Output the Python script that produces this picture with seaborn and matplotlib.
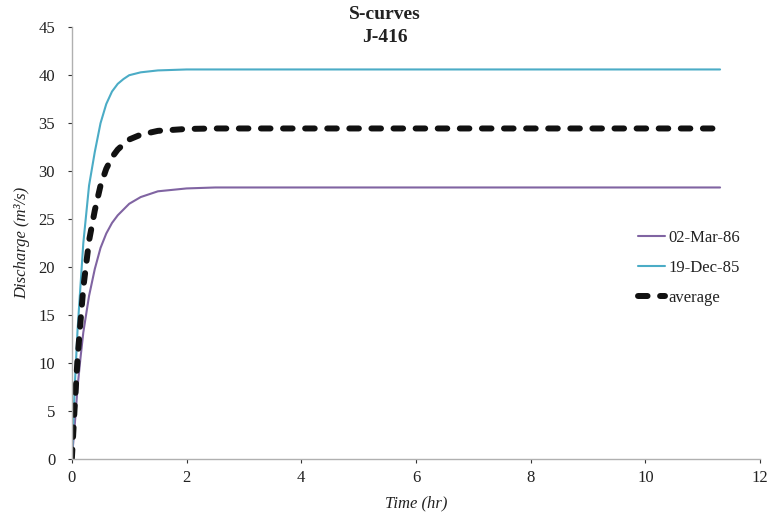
import matplotlib
matplotlib.use("Agg")
import matplotlib.pyplot as plt
import seaborn as sns
import pandas as pd

# Data
time_hr = [0, 0.05, 0.1, 0.15, 0.2, 0.3, 0.4, 0.5, 0.6, 0.7, 0.8, 0.9, 1.0, 1.2, 1.5,
           2.0, 2.5, 3, 4, 5, 6, 7, 8, 9, 10, 11, 11.3]
dec85 = [0, 7.5, 13.5, 18.0, 22.5, 28.5, 32.0, 35.0, 37.0, 38.3, 39.1, 39.6, 40.0, 40.3, 40.5,
         40.6, 40.6, 40.6, 40.6, 40.6, 40.6, 40.6, 40.6, 40.6, 40.6, 40.6, 40.6]
mar86 = [0, 3.5, 7.5, 10.5, 13.2, 17.0, 19.8, 22.0, 23.5, 24.6, 25.4, 26.0, 26.6, 27.3, 27.9,
         28.2, 28.3, 28.3, 28.3, 28.3, 28.3, 28.3, 28.3, 28.3, 28.3, 28.3, 28.3]
average = [0, 5.5, 10.5, 14.25, 17.85, 22.75, 25.9, 28.5, 30.25, 31.45, 32.25, 32.8, 33.3, 33.8, 34.2,
           34.4, 34.45, 34.45, 34.45, 34.45, 34.45, 34.45, 34.45, 34.45, 34.45, 34.45, 34.45]

series_labels = ["02-Mar-86", "19-Dec-85", "average"]
x_ticks = [0, 2, 4, 6, 8, 10, 12]
y_ticks = [0, 5, 10, 15, 20, 25, 30, 35, 40, 45]

sns.set_theme(style="white")
plt.rcParams["font.family"] = ["Liberation Serif", "DejaVu Serif"]

fig = plt.figure(figsize=(7.7, 5.14), dpi=100)
ax = fig.add_axes([0.0933, 0.107, 0.894, 0.840])

df = pd.DataFrame({"t": time_hr, "mar86": mar86, "dec85": dec85, "avg": average})

sns.lineplot(data=df, x="t", y="mar86", ax=ax, color="#8064a2", linewidth=1.5,
             label=series_labels[0])
sns.lineplot(data=df, x="t", y="dec85", ax=ax, color="#4bacc6", linewidth=1.5,
             label=series_labels[1])
sns.lineplot(data=df, x="t", y="avg", ax=ax, color="#111111", linewidth=4.3,
             dashes=False, label=series_labels[2])
avg_line = ax.get_lines()[-1]
avg_line.set_dashes((1.6, 2.1))
avg_line.set_dash_capstyle("round")

ax.set_xlim(0, 12)
ax.set_ylim(0, 45)
ax.set_xticks(x_ticks)
ax.set_yticks(y_ticks)
ax.tick_params(axis="both", labelsize=12, colors="#333333", length=3, width=0.8,
               direction="out", bottom=True, left=True)
ax.tick_params(axis="y", pad=9)
ax.tick_params(axis="x", pad=5)
for lab in ax.get_xticklabels() + ax.get_yticklabels():
    lab.set_color("#222222")

for side in ["top", "right"]:
    ax.spines[side].set_visible(False)
for side in ["left", "bottom"]:
    ax.spines[side].set_color("#b0b0b0")
    ax.spines[side].set_linewidth(1.0)

ax.set_xlabel("Time (hr)", fontsize=12, style="italic", color="#222222", labelpad=7)
ax.set_ylabel("Discharge (m³/s)", fontsize=12, style="italic", color="#222222", labelpad=6)

fig.text(0.5, 0.971, "S-curves", ha="center", va="center", fontsize=14,
         fontweight="bold", color="#222222")
fig.text(0.5, 0.927, "J-416", ha="center", va="center", fontsize=14,
         fontweight="bold", color="#222222")

leg = ax.legend(loc="center left", bbox_to_anchor=(0.818, 0.479),
                bbox_transform=fig.transFigure, frameon=False, fontsize=12,
                handlelength=1.6, handletextpad=0.2, labelspacing=0.85, borderpad=0)
for t in leg.get_texts():
    t.set_color("#222222")

fig.savefig("out.png", dpi=100)
